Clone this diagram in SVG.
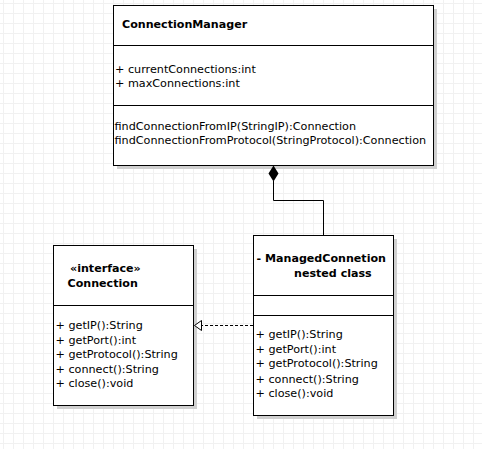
<svg xmlns="http://www.w3.org/2000/svg" width="482" height="449" viewBox="0 0 482 449">
<style>
.box{fill:#fff;stroke:#000;stroke-width:1}
.shadow{fill:#d0d0d0}
.div{stroke:#000;stroke-width:1}
text{font-family:"DejaVu Sans","Liberation Sans",sans-serif;font-size:11.2px;fill:#000}
.title{font-weight:bold;font-size:11.1px}
.conn{fill:none;stroke:#000;stroke-width:1}
</style>
<defs>
<pattern id="grid" patternUnits="userSpaceOnUse" x="3" y="3" width="10" height="10">
<path d="M0 0.5H10M0.5 0V10" stroke="#f1f1f1" stroke-width="1" fill="none"/>
</pattern>
</defs>
<rect width="482" height="449" fill="#fff"/>
<rect width="482" height="449" fill="url(#grid)"/>

<g id="ConnectionManager">
<rect class="shadow" x="117" y="9" width="320" height="160"/>
<rect class="box" x="113.5" y="5.5" width="320" height="160"/>
<line class="div" x1="113.5" y1="45.5" x2="433.5" y2="45.5"/>
<line class="div" x1="113.5" y1="105.5" x2="433.5" y2="105.5"/>
<text class="title" x="122" y="28">ConnectionManager</text>
<text x="115" y="72.5">+ currentConnections:int</text>
<text x="115" y="86.5">+ maxConnections:int</text>
<text x="114.5" y="130">findConnectionFromIP(StringIP):Connection</text>
<text x="114.5" y="143.5">findConnectionFromProtocol(StringProtocol):Connection</text>
</g>

<g id="Connection">
<rect class="shadow" x="57" y="249" width="140" height="160"/>
<rect class="box" x="53.5" y="245.5" width="140" height="160"/>
<line class="div" x1="53.5" y1="305.5" x2="193.5" y2="305.5"/>
<text class="title" x="70" y="272">«interface»</text>
<text class="title" x="67.5" y="287">Connection</text>
<text x="55.5" y="329">+ getIP():String</text>
<text x="55.5" y="343.5">+ getPort():int</text>
<text x="55.5" y="358">+ getProtocol():String</text>
<text x="55.5" y="372.5">+ connect():String</text>
<text x="55.5" y="387">+ close():void</text>
</g>

<g id="ManagedConnetion">
<rect class="shadow" x="257" y="239" width="140" height="180"/>
<rect class="box" x="253.5" y="235.5" width="140" height="180"/>
<line class="div" x1="253.5" y1="295.5" x2="393.5" y2="295.5"/>
<line class="div" x1="253.5" y1="315.5" x2="393.5" y2="315.5"/>
<text class="title" x="256.5" y="262">- ManagedConnetion</text>
<text class="title" x="294" y="277">nested class</text>
<text x="255.5" y="338">+ getIP():String</text>
<text x="255.5" y="352.5">+ getPort():int</text>
<text x="255.5" y="367">+ getProtocol():String</text>
<text x="255.5" y="382.5">+ connect():String</text>
<text x="255.5" y="397">+ close():void</text>
</g>

<g id="connectors">
<path class="conn" d="M273.5 181V200.5H323.5V235.5"/>
<path d="M273.5 165.5L278.5 173.5L273.5 181.5L268.5 173.5Z" fill="#000"/>
<line class="conn" x1="253" y1="325.5" x2="201" y2="325.5" stroke-dasharray="3,2"/>
<path d="M201.5 320.5L194.5 325.5L201.5 330.5Z" fill="#fff" stroke="#000" stroke-width="1"/>
</g>
</svg>
